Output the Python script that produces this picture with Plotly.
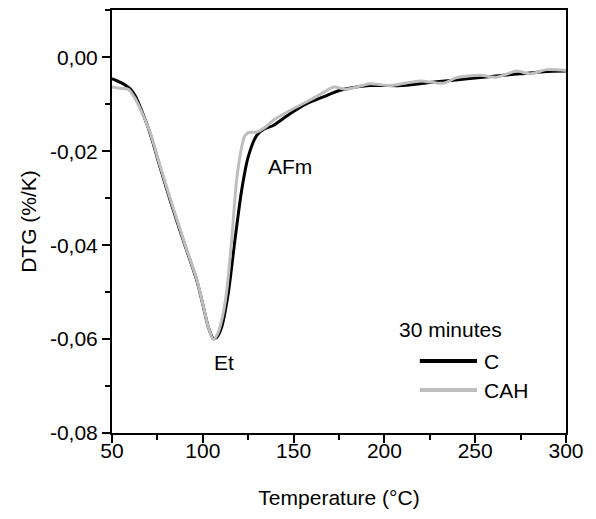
import plotly.graph_objects as go

# Temperature (°C) and DTG (%/K)
temp_c = [50, 54, 57, 60, 63, 66, 71, 76.4, 82, 87.4, 91, 96.6, 100.3, 103, 105.8, 107.5,
          110.4, 114, 117.7, 121.4, 125, 129.7, 134, 138.8, 148, 157, 166.4, 175.6,
          192, 210, 228.7, 247, 265.5, 274.7, 289.4, 300]
dtg_c = [-0.0045, -0.0052, -0.0058, -0.0067, -0.0083, -0.0110, -0.0162, -0.0233, -0.0304, -0.0368,
         -0.0410, -0.0474, -0.0531, -0.0574, -0.0599, -0.0597,
         -0.0574, -0.0503, -0.0389, -0.0283, -0.0212, -0.0166, -0.0152, -0.0145, -0.0120,
         -0.0099, -0.0084, -0.0070,
         -0.0060, -0.0060, -0.0052, -0.0045, -0.0038, -0.0035, -0.0030, -0.0029]

temp_cah = [50, 55, 59, 62, 65.4, 71, 76.4, 82, 87.4, 91, 96.6, 100.3, 103, 105.8, 108,
            110.4, 113, 115.9, 118.6, 121.4, 123, 125, 129.7, 134, 138.8, 148, 157, 165,
            172, 179, 192, 203, 219.6, 232.4, 239.8, 252.6, 261.8, 272.8, 280, 289.4, 300]
dtg_cah = [-0.0063, -0.0066, -0.0068, -0.0083, -0.0108, -0.0160, -0.0230, -0.0300, -0.0365,
           -0.0408, -0.0472, -0.0530, -0.0574, -0.0601, -0.0590,
           -0.0560, -0.0503, -0.0389, -0.0262, -0.0191, -0.0168, -0.0160, -0.0159, -0.0150,
           -0.0134, -0.0113, -0.0095, -0.0078,
           -0.0063, -0.0068, -0.0056, -0.0060, -0.0050, -0.0055, -0.0043, -0.0038, -0.0042,
           -0.0029, -0.0035, -0.0026, -0.0028]

series_names = ["C", "CAH"]
legend_title = "30 minutes"
x_ticks = [50, 100, 150, 200, 250, 300]
x_range = [50, 300]
y_ticks = [-0.08, -0.06, -0.04, -0.02, 0.0]
y_tick_text = ["-0,08", "-0,06", "-0,04", "-0,02", "0,00"]

FONT = "Liberation Sans, Arial, sans-serif"
BLACK = "#000000"
GRAY = "#BEBEBE"

fig = go.Figure()
fig.add_trace(go.Scatter(x=temp_c, y=dtg_c, mode="lines", name=series_names[0],
                         line=dict(color=BLACK, width=3, shape="spline", smoothing=0.7),
                         showlegend=False))
# CAH drawn on the overlaying x axis (same range) so that axis carries the labels
fig.add_trace(go.Scatter(x=temp_cah, y=dtg_cah, mode="lines", name=series_names[1],
                         xaxis="x2", yaxis="y",
                         line=dict(color=GRAY, width=3, shape="spline", smoothing=0.7),
                         showlegend=False))

# Manual legend (long line samples like the reference)
leg_items = [(series_names[0], BLACK, 0.170), (series_names[1], GRAY, 0.1015)]
for name, col, yy in leg_items:
    fig.add_shape(type="line", xref="paper", yref="paper", x0=0.678, x1=0.804, y0=yy, y1=yy,
                  line=dict(color=col, width=4))
    fig.add_annotation(xref="paper", yref="paper", x=0.815, y=yy, text=name, showarrow=False,
                       xanchor="left", yanchor="middle", font=dict(size=21, color="black", family=FONT))
fig.add_annotation(xref="paper", yref="paper", x=0.627, y=0.245, text=legend_title, showarrow=False,
                   xanchor="left", yanchor="middle", font=dict(size=21, color="black", family=FONT))

# Peak labels
fig.add_annotation(x=148, y=-0.0232, text="AFm", showarrow=False,
                   font=dict(size=21, color="black", family=FONT))
fig.add_annotation(x=111.7, y=-0.0650, text="Et", showarrow=False,
                   font=dict(size=21, color="black", family=FONT))

tickfont = dict(size=21, color="black", family=FONT)

fig.update_layout(xaxis=dict(range=x_range, tickvals=x_ticks, showticklabels=False,
                             showline=True, linecolor="black", linewidth=2, mirror=True,
                             ticks="outside", ticklen=8, tickwidth=2, tickcolor="black",
                             minor=dict(dtick=25, tick0=50, ticks="outside", ticklen=5, tickwidth=2,
                                        tickcolor="black", showgrid=False),
                             showgrid=False, zeroline=False),
                  xaxis2=dict(range=x_range, tickvals=x_ticks, overlaying="x", side="bottom", anchor="y",
                              matches="x", ticks="", showline=False, showgrid=False, zeroline=False,
                              showticklabels=True, tickfont=tickfont, ticklabelstandoff=3,
                              title=dict(text="Temperature (°C)", font=tickfont, standoff=29)))
fig.update_yaxes(range=[-0.08, 0.0101], tickvals=y_ticks, ticktext=y_tick_text,
                 showline=True, linecolor="black", linewidth=2, mirror=True,
                 ticks="outside", ticklen=8, tickwidth=2, tickcolor="black",
                 showgrid=False, zeroline=False, tickfont=tickfont,
                 minor=dict(dtick=0.01, tick0=0, ticks="outside", ticklen=5, tickwidth=2,
                            tickcolor="black", showgrid=False),
                 title=dict(text="DTG (%/K)", font=tickfont, standoff=8))

fig.update_layout(width=596, height=519,
                  margin=dict(l=112, r=30, t=9.5, b=86, autoexpand=False),
                  plot_bgcolor="white", paper_bgcolor="white",
                  font=dict(family=FONT, color="black"))

fig.write_html("out.html")
